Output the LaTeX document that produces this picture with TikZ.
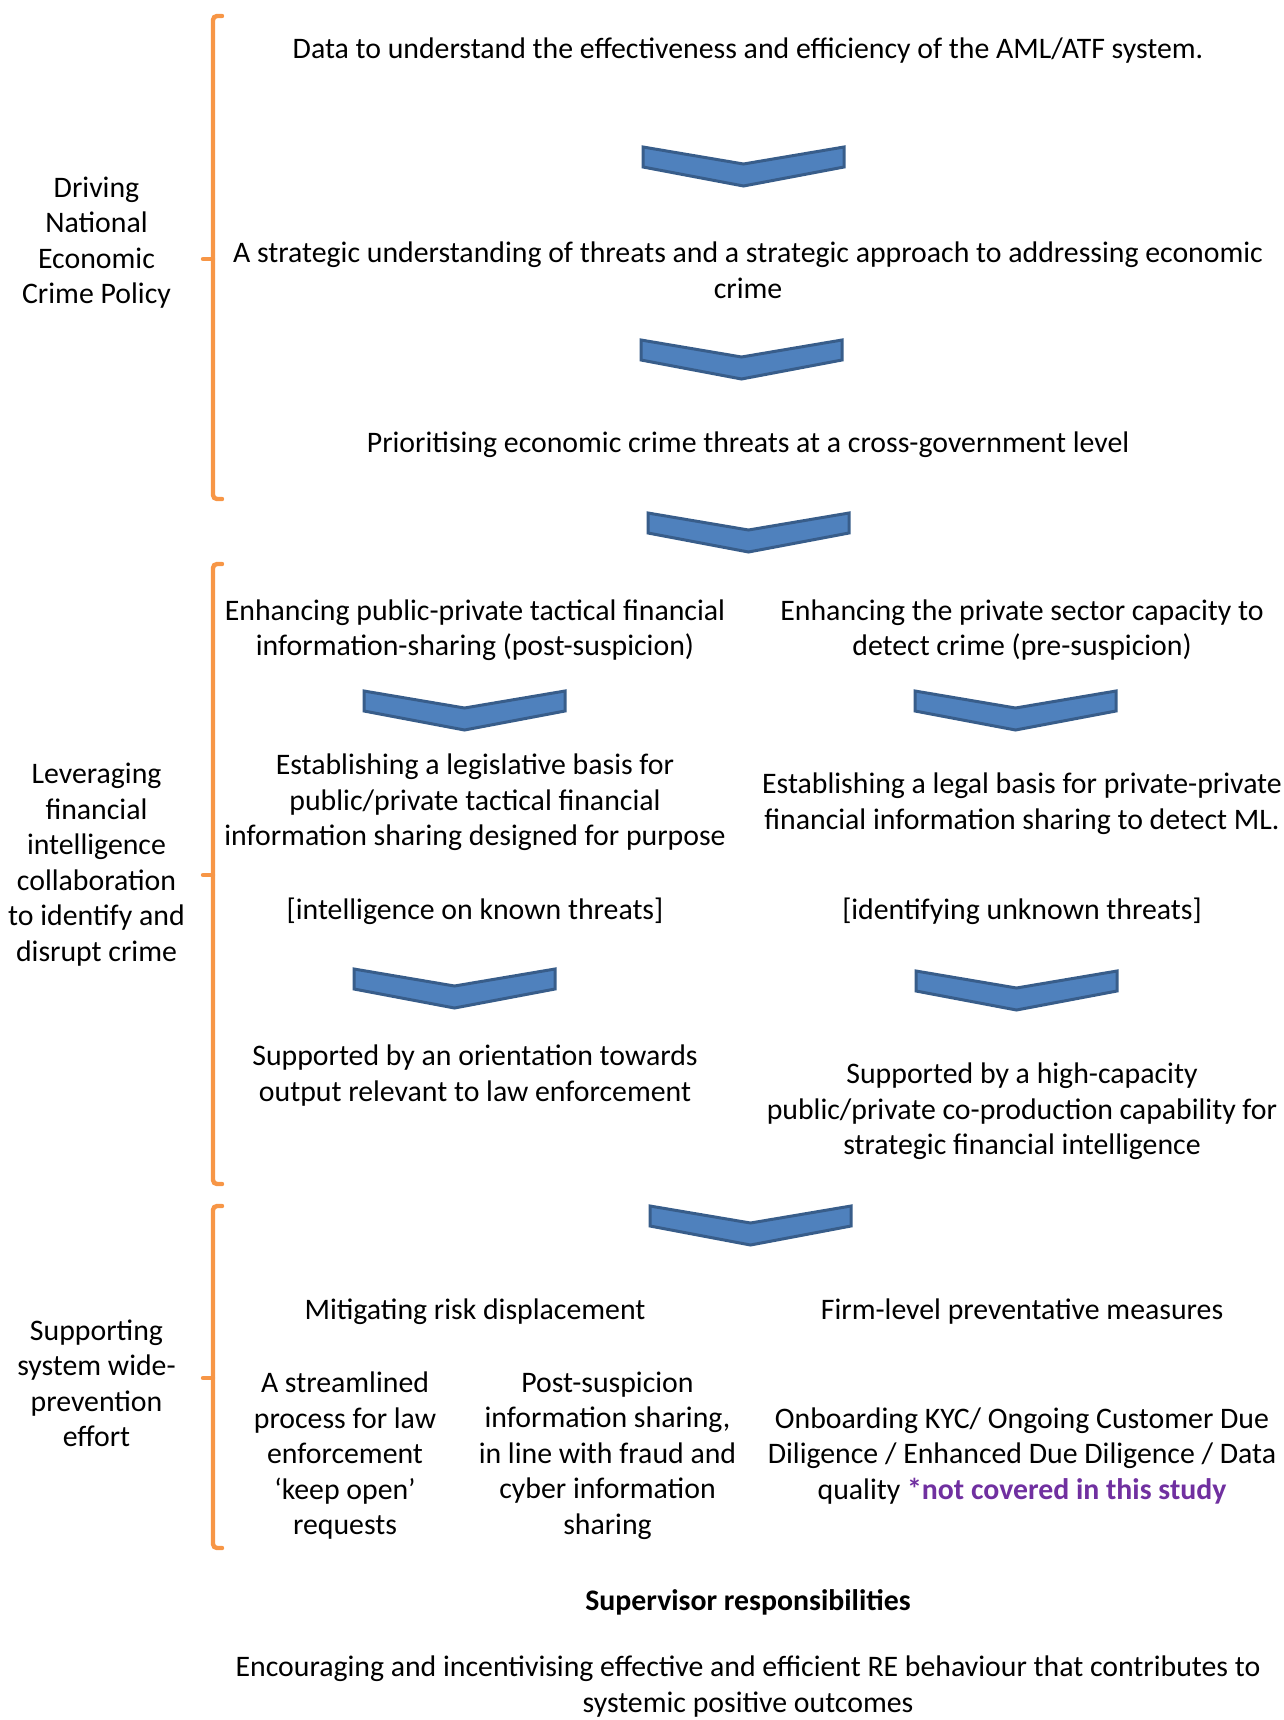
\documentclass[tikz,border=0pt]{standalone}
\usepackage{fontspec}
\setmainfont{Carlito}
\definecolor{bracec}{HTML}{F79646}
\definecolor{chevfill}{HTML}{4F81BD}
\definecolor{chevline}{HTML}{385D8A}
\definecolor{purp}{HTML}{7030A0}
\newcommand{\mychevron}[2]{%
  \draw[chev] (#1+2,#2+2) -- (#1+102.5,#2+19) -- (#1+203,#2+2) -- (#1+203,#2+22) -- (#1+102.5,#2+41) -- (#1+2,#2+22) -- cycle;}
\newcommand{\mybrace}[3]{%
  \draw[brc] (222,#1) -- (213,#1) -- (213,#3) -- (222,#3);
  \draw[brc] (213,#2) -- (203,#2);}
\begin{document}
\begin{tikzpicture}[x=0.5pt,y=-0.5pt,
  txt/.style={align=center, inner sep=0pt, yshift=-1.3pt, font=\fontsize{14.9}{17.75}\selectfont},
  chev/.style={fill=chevfill, draw=chevline, line width=1.5pt, line join=miter},
  brc/.style={draw=bracec, line width=2.2pt, rounded corners=2pt, line cap=round}]
\useasboundingbox (0,0) rectangle (1284,1720);
% braces
\mybrace{16}{259}{499}
\mybrace{564}{875}{1184}
\mybrace{1206}{1378}{1548}
% chevrons
\mychevron{641}{145}
\mychevron{639}{338}
\mychevron{646}{511}
\mychevron{362}{689}
\mychevron{913}{689}
\mychevron{352}{967}
\mychevron{914}{969}
\mychevron{648}{1204}
% left labels
\node[txt] (driving) at (96.5,240) {Driving\\National\\Economic\\Crime Policy};
\node[txt] (lever) at (96.5,862) {Leveraging\\financial\\intelligence\\collaboration\\to identify and\\disrupt crime};
\node[txt] (support) at (96.5,1380.5) {Supporting\\system wide-\\prevention\\effort};
% main column
\node[txt] (data) at (748,48) {Data to understand the effectiveness and efficiency of the AML/ATF system.};
\node[txt] (strat) at (748,267.5) {A strategic understanding of threats and a strategic approach to addressing economic\\crime};
\node[txt] (prio) at (748,442) {Prioritising economic crime threats at a cross-government level};
\node[txt] (ppt) at (475,627.5) {Enhancing public-private tactical financial\\information-sharing (post-suspicion)};
\node[txt] (psc) at (1022,627.5) {Enhancing the private sector capacity to\\detect crime (pre-suspicion)};
\node[txt] (leg) at (475,800) {Establishing a legislative basis for\\public/private tactical financial\\information sharing designed for purpose};
\node[txt] (legal) at (1022,801) {Establishing a legal basis for private-private\\financial information sharing to detect ML.};
\node[txt] (known) at (475,909) {[intelligence on known threats]};
\node[txt] (unknown) at (1022,909) {[identifying unknown threats]};
\node[txt] (orient) at (475,1073) {Supported by an orientation towards\\output relevant to law enforcement};
\node[txt] (capacity) at (1022,1109) {Supported by a high-capacity\\public/private co-production capability for\\strategic financial intelligence};
\node[txt] (mitig) at (475,1309) {Mitigating risk displacement};
\node[txt] (firm) at (1022,1309) {Firm-level preventative measures};
\node[txt] (stream) at (345,1453) {A streamlined\\process for law\\enforcement\\‘keep open’\\requests};
\node[txt] (post) at (607.5,1453) {Post-suspicion\\information sharing,\\in line with fraud and\\cyber information\\sharing};
\node[txt] (onboard) at (1022,1453) {Onboarding KYC/ Ongoing Customer Due\\Diligence / Enhanced Due Diligence / Data\\quality {\color{purp}\bfseries *not covered in this study}};
\node[txt, font=\fontsize{14.9}{17.75}\selectfont\bfseries] (sup) at (748,1600) {Supervisor responsibilities};
\node[txt] (enc) at (748,1684) {Encouraging and incentivising effective and efficient RE behaviour that contributes to\\systemic positive outcomes};
\end{tikzpicture}
\end{document}
